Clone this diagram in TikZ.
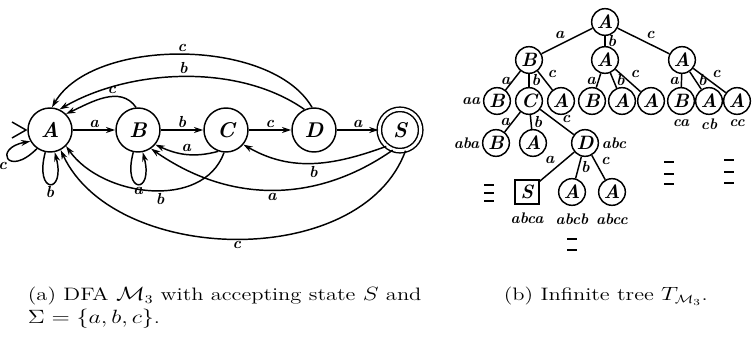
\documentclass[tikz,border=0pt]{standalone}
\usepackage{amsmath,amssymb}
\usepackage{xcolor}
\usepackage{tikz}
\usetikzlibrary{arrows.meta}

\begin{document}
\begin{tikzpicture}[x=0.75pt,y=0.75pt,>={Stealth[length=7pt,width=4.5pt]},line width=1.1pt,
  state/.style={circle,draw,line width=1.1pt,minimum size=33pt,inner sep=0pt,
    font=\fontsize{16}{16}\selectfont\bfseries\itshape},
  accept/.style={state,double,double distance=2.2pt,minimum size=31pt},
  lab/.style={font=\fontsize{12}{12}\selectfont\bfseries\itshape,inner sep=1.5pt},
  tnode/.style={circle,draw,line width=1.1pt,minimum size=20pt,inner sep=0pt,
    font=\fontsize{14.5}{14.5}\selectfont\bfseries\itshape},
  tsq/.style={tnode,rectangle,minimum size=18pt},
  word/.style={font=\fontsize{11.5}{11.5}\selectfont\bfseries\itshape,inner sep=1.5pt},
  stub/.style={line width=1.3pt},
  captext/.style={font=\fontsize{13.5}{13.5}\selectfont,inner sep=0pt,anchor=west,
    xscale=1.25,transform shape}]
\useasboundingbox (0,0) rectangle (753,340);

% --- DFA M_3 ---
\node[state] (A) at (50,210) {A};
\node[state] (B) at (138,210) {B};
\node[state] (C) at (226,210) {C};
\node[state] (D) at (314,210) {D};
\node[accept] (S) at (400,210) {S};
\coordinate (st) at (26,210);
\draw (12,218) -- (st) -- (12,202);

\draw[->] (A) -- node[lab,above] {a} (B);
\draw[->] (B) -- node[lab,above] {b} (C);
\draw[->] (C) -- node[lab,above] {c} (D);
\draw[->] (D) -- node[lab,above] {a} (S);
% back edges above
\draw[->] (D.95) to[out=120,in=60,looseness=0.8] node[lab,above] {c} (A.85);
\draw[->] (D.115) to[out=145,in=30,looseness=0.85] node[lab,above] {b} (A.65);
\draw[->] (B.95) to[out=125,in=25] node[lab,above,pos=0.4] {c} (A.45);
% back edges below
\draw[->] (C.250) to[out=195,in=-25] node[lab,above] {a} (B.-40);
\draw[->] (S.230) to[out=200,in=-30] node[lab,below] {b} (C.-40);
\draw[->] (S.250) to[out=215,in=-35] node[lab,below] {a} (B.-55);
\draw[->] (C.265) to[out=-110,in=-55] node[lab,below,pos=0.45] {b} (A.-45);
\draw[->] (S.-75) to[out=-110,in=-65,looseness=0.95] node[lab,below] {c} (A.-62);
% self loops
\draw[->] (A.235) .. controls +(225:42) and +(190:38) .. node[lab,below left,pos=0.45] {c} (A.210);
\draw[->] (A.258) .. controls +(255:44) and +(285:44) .. node[lab,below] {b} (A.282);
\draw[->] (B.258) .. controls +(255:44) and +(285:44) .. node[lab,below] {a} (B.282);

% --- tree T_M3 ---
\node[tnode] (r) at (605,318) {A};
\node[tnode] (t1) at (529,280) {B};
\node[tnode] (t2) at (605,280) {A};
\node[tnode] (t3) at (682,280) {A};
\node[tnode] (t11) at (497,239) {B};
\node[tnode] (t12) at (529,239) {C};
\node[tnode] (t13) at (561,239) {A};
\node[tnode] (t21) at (592,239) {B};
\node[tnode] (t22) at (622,239) {A};
\node[tnode] (t23) at (651,239) {A};
\node[tnode] (t31) at (681,239) {B};
\node[tnode] (t32) at (709,239) {A};
\node[tnode] (t33) at (737,239) {A};
\node[tnode] (t121) at (496,197) {B};
\node[tnode] (t122) at (533,197) {A};
\node[tnode] (t123) at (585,197) {D};
\node[tsq] (t1231) at (527,148) {S};
\node[tnode] (t1232) at (572,148) {A};
\node[tnode] (t1233) at (612,148) {A};

\draw (r) -- node[lab,above left] {a} (t1);
\draw (r) -- node[lab,right] {b} (t2);
\draw (r) -- node[lab,above right] {c} (t3);
\foreach \p in {1,2,3}{
  \draw (t\p) -- node[lab,left] {a} (t\p1);
  \draw (t\p) -- node[lab,right] {b} (t\p2);
  \draw (t\p) -- node[lab,above right] {c} (t\p3);}
\draw (t12) -- node[lab,left] {a} (t121);
\draw (t12) -- node[lab,right] {b} (t122);
\draw (t12) -- node[lab,above right=-1pt,pos=0.6] {c} (t123);
\draw (t123) -- node[lab,above left] {a} (t1231);
\draw (t123) -- node[lab,right] {b} (t1232);
\draw (t123) -- node[lab,above right] {c} (t1233);

\node[word,left] (waa) at (t11.west) {aa};
\node[word,left] (waba) at (t121.west) {aba};
\node[word,right] (wabc) at (t123.east) {abc};
\node[word,below=4pt] (wabca) at (t1231.south) {abca};
\node[word,below=4pt] (wabcb) at (t1232.south) {abcb};
\node[word,below=4pt] (wabcc) at (t1233.south) {abcc};
\node[word,below=1pt] (wca) at (t31.south) {ca};
\node[word,below=1pt] (wcb) at (t32.south) {cb};
\node[word,below=1pt] (wcc) at (t33.south) {cc};

% unfinished branches
\foreach \x/\y in {489/155,489/147,489/139,572/101,572/90,
  669/178,669/166,669/156,729/180,729/168,729/157}
  \draw[stub] (\x-5,\y) -- (\x+5,\y);

% --- captions ---
\node[captext] (capa) at (27,44) {(a) DFA $\mathcal{M}_3$ with accepting state $S$ and};
\node[captext] (capa2) at (27,21) {$\Sigma=\{a,b,c\}$.};
\node[captext] (capb) at (503,44) {(b) Infinite tree $T_{\mathcal{M}_3}$.};
\end{tikzpicture}
\end{document}
